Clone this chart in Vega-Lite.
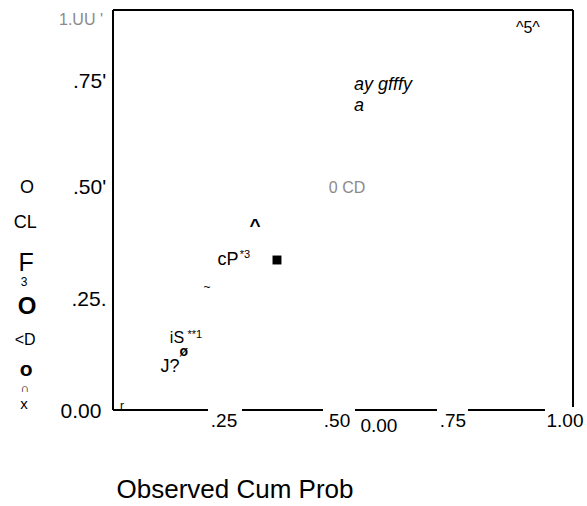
{
  "$schema": "https://vega.github.io/schema/vega-lite/v6.json",
  "width": 460,
  "height": 400,
  "autosize": {"type": "none"},
  "padding": {"left": 113, "top": 10, "right": 14, "bottom": 96},
  "background": "white",
  "config": {"view": {"stroke": null}, "text": {"font": "Liberation Sans"}},
  "encoding": {
    "x": {"field": "x", "type": "quantitative", "scale": {"domain": [0, 1], "nice": false, "zero": false}, "axis": null},
    "y": {"field": "y", "type": "quantitative", "scale": {"domain": [0, 1], "nice": false, "zero": false}, "axis": null}
  },
  "layer": [
    {
      "data": {"values": [
        {"x": 0, "x2": 0, "y": 0, "y2": 1},
        {"x": 0, "x2": 1, "y": 1, "y2": 1},
        {"x": 1, "x2": 1, "y": 0.0075, "y2": 1},
        {"x": 0, "x2": 0.2065, "y": 0, "y2": 0},
        {"x": 0.2804, "x2": 0.4565, "y": 0, "y2": 0},
        {"x": 0.5261, "x2": 0.7043, "y": 0, "y2": 0},
        {"x": 0.7717, "x2": 0.9391, "y": 0, "y2": 0}
      ]},
      "mark": {"type": "rule", "color": "black", "strokeWidth": 2},
      "encoding": {
        "x2": {"field": "x2"},
        "y2": {"field": "y2"}
      }
    },
    {
      "data": {"values": [
        {"label": ".75'", "x": -0.051, "y": 0.82},
        {"label": ".50'", "x": -0.051, "y": 0.555},
        {"label": ".25.", "x": -0.0522, "y": 0.275},
        {"label": "0.00", "x": -0.0696, "y": -0.005}
      ]},
      "mark": {"type": "text", "fontSize": 21, "color": "black"},
      "encoding": {"text": {"field": "label"}}
    },
    {
      "data": {"values": [
        {"label": ".25", "x": 0.2413, "y": -0.0275},
        {"label": ".50", "x": 0.487, "y": -0.0275},
        {"label": "0.00", "x": 0.578, "y": -0.04},
        {"label": ".75", "x": 0.739, "y": -0.0275},
        {"label": "1.00", "x": 0.9826, "y": -0.0275}
      ]},
      "mark": {"type": "text", "fontSize": 19, "color": "black"},
      "encoding": {"text": {"field": "label"}}
    },
    {
      "data": {"values": [
        {"label": "cP", "x": 0.25, "y": 0.375},
        {"label": "J?", "x": 0.124, "y": 0.1075},
        {"label": "CL", "x": -0.191, "y": 0.4675}
      ]},
      "mark": {"type": "text", "fontSize": 18, "color": "black"},
      "encoding": {"text": {"field": "label"}}
    },
    {
      "data": {"values": [
        {"label": "1.UU '", "x": -0.0696, "y": 0.975},
        {"label": "0 CD", "x": 0.5087, "y": 0.555}
      ]},
      "mark": {"type": "text", "fontSize": 16, "color": "#8a8a8a"},
      "encoding": {"text": {"field": "label"}}
    },
    {
      "data": {"values": [
        {"label": "Observed Cum Prob", "x": 0.2652, "y": -0.2}
      ]},
      "mark": {"type": "text", "fontSize": 26, "color": "black"},
      "encoding": {"text": {"field": "label"}}
    },
    {
      "data": {"values": [
        {"label": "ay gfffy", "x": 0.5239, "y": 0.8125},
        {"label": "a", "x": 0.5239, "y": 0.76}
      ]},
      "mark": {"type": "text", "fontSize": 18, "fontStyle": "italic", "align": "left", "color": "black"},
      "encoding": {"text": {"field": "label"}}
    },
    {
      "data": {"values": [
        {"label": "^", "x": 0.3087, "y": 0.46}
      ]},
      "mark": {"type": "text", "fontSize": 19, "fontWeight": "bold", "color": "black"},
      "encoding": {"text": {"field": "label"}}
    },
    {
      "data": {"values": [
        {"label": "O", "x": -0.187, "y": 0.2575}
      ]},
      "mark": {"type": "text", "fontSize": 24, "fontWeight": "bold", "color": "black"},
      "encoding": {"text": {"field": "label"}}
    },
    {
      "data": {"values": [
        {"label": "o", "x": -0.189, "y": 0.1}
      ]},
      "mark": {"type": "text", "fontSize": 21, "fontWeight": "bold", "color": "black"},
      "encoding": {"text": {"field": "label"}}
    },
    {
      "data": {"values": [
        {"label": "ø", "x": 0.154, "y": 0.146}
      ]},
      "mark": {"type": "text", "fontSize": 14, "fontWeight": "bold", "color": "black"},
      "encoding": {"text": {"field": "label"}}
    },
    {
      "data": {"values": [
        {"label": "*3", "x": 0.287, "y": 0.3875},
        {"label": "**1", "x": 0.178, "y": 0.1875}
      ]},
      "mark": {"type": "text", "fontSize": 11, "color": "black"},
      "encoding": {"text": {"field": "label"}}
    },
    {
      "data": {"values": [
        {"label": "~", "x": 0.2043, "y": 0.3075},
        {"label": "r", "x": 0.0196, "y": 0.01},
        {"label": "3", "x": -0.1935, "y": 0.32},
        {"label": "∩", "x": -0.191, "y": 0.054}
      ]},
      "mark": {"type": "text", "fontSize": 12, "color": "black"},
      "encoding": {"text": {"field": "label"}}
    },
    {
      "data": {"values": [
        {"label": "^5^", "x": 0.902, "y": 0.955},
        {"label": "<D", "x": -0.191, "y": 0.175},
        {"label": "iS", "x": 0.139, "y": 0.181}
      ]},
      "mark": {"type": "text", "fontSize": 16, "color": "black"},
      "encoding": {"text": {"field": "label"}}
    },
    {
      "data": {"values": [
        {"label": "x", "x": -0.1935, "y": 0.016}
      ]},
      "mark": {"type": "text", "fontSize": 15, "color": "black"},
      "encoding": {"text": {"field": "label"}}
    },
    {
      "data": {"values": [
        {"label": "O", "x": -0.187, "y": 0.555}
      ]},
      "mark": {"type": "text", "fontSize": 18, "color": "black"},
      "encoding": {"text": {"field": "label"}}
    },
    {
      "data": {"values": [
        {"label": "F", "x": -0.189, "y": 0.3675}
      ]},
      "mark": {"type": "text", "fontSize": 25, "color": "black"},
      "encoding": {"text": {"field": "label"}}
    },
    {
      "data": {"values": [
        {"x": 0.3565, "y": 0.375}
      ]},
      "mark": {"type": "point", "shape": "square", "filled": true, "color": "black", "size": 80, "opacity": 1}
    }
  ]
}
